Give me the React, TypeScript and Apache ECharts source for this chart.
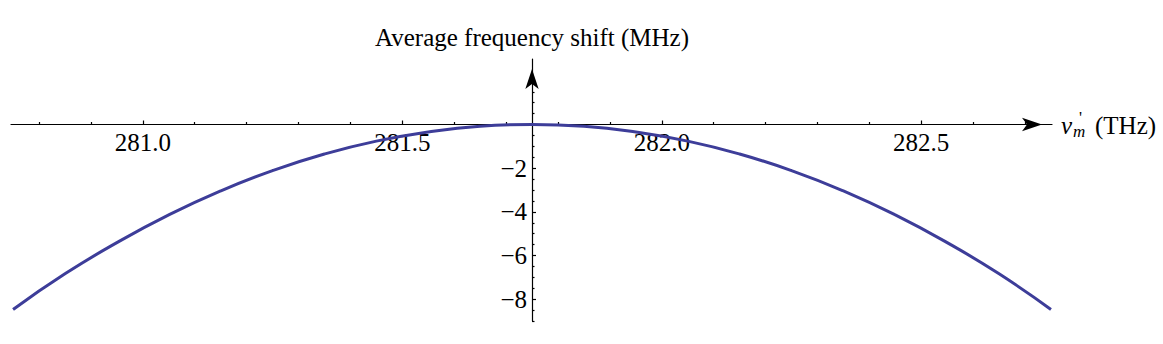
import React, { useEffect, useRef } from "react";
import * as echarts from "echarts";

// Frequency ν'_m (THz)
const freqTHz = [
  280.75, 280.85, 280.95, 281.05, 281.15, 281.25, 281.35, 281.45, 281.55, 281.65,
  281.75, 281.85, 281.95, 282.05, 282.15, 282.25, 282.35, 282.45, 282.55, 282.65, 282.75,
];
// Average frequency shift (MHz)
const shiftMHz = [
  -8.47, -6.84, -5.41, -4.14, -3.04, -2.11, -1.35, -0.76, -0.34, -0.08,
  0.0, -0.08, -0.34, -0.76, -1.35, -2.11, -3.04, -4.14, -5.41, -6.84, -8.47,
];

const xMajorTicks = [281.0, 281.5, 282.0, 282.5];
const xMinorTicks = [
  280.8, 280.9, 281.1, 281.2, 281.3, 281.4, 281.6, 281.7, 281.8, 281.9,
  282.1, 282.2, 282.3, 282.4, 282.6, 282.7,
];
const yMajorTicks = [-8, -6, -4, -2, 2];
const yLabelValues = [-8, -6, -4, -2];
const yMinorTicks = [
  -9, -8.5, -7.5, -7, -6.5, -5.5, -5, -4.5, -3.5, -3, -2.5, -1.5, -1, -0.5, 0.5, 1, 1.5,
];

const X_MIN = 280.746;
const X_MAX = 282.752;
const Y_MIN = -9;
const Y_MAX = 3;

const SERIF = "'Liberation Serif', 'Times New Roman', serif";
const AXIS_COLOR = "#000";
const CURVE_COLOR = "#3d3d99";

export default function App() {
  const ref = useRef<HTMLDivElement>(null);

  useEffect(() => {
    if (!ref.current) return;
    const chart = echarts.init(ref.current, undefined, { renderer: "svg" });
    const lineStyle = { color: AXIS_COLOR, width: 1.2 };
    const TOP = 59;
    const H = 262;
    const zeroFromTop = (H * Y_MAX) / (Y_MAX - Y_MIN); // pixel distance from top to y = 0
    const base = { outerBoundsMode: "none", containLabel: false };
    // 0: plot area, 1: horizontal axis strip (bottom edge at y = 0), 2: same strip for minor ticks
    // 3: vertical axis strip, 4: same strip for minor ticks
    const plotGrid = { ...base, left: 11, right: 111, top: TOP, height: H };
    const hGrid = { ...base, left: 11, right: 111, top: TOP, height: zeroFromTop };
    const vGrid = { ...base, left: 532, width: 1, top: TOP, height: H };
    const arrowLine = {
      show: true,
      onZero: false,
      lineStyle,
      symbol: ["none", "arrow"],
      symbolSize: [10, 20],
      symbolOffset: [0, -10],
    };
    const hiddenY = (gridIndex: number, min: number, max: number) => ({
      gridIndex, type: "value", min, max, show: false,
    });
    const hiddenX = (gridIndex: number) => ({ gridIndex, type: "value", min: 0, max: 1, show: false });
    const option: any = {
      animation: false,
      backgroundColor: "#fff",
      grid: [plotGrid, hGrid, { ...hGrid }, vGrid, { ...vGrid }],
      xAxis: [
        { gridIndex: 0, type: "value", min: X_MIN, max: X_MAX, show: false },
        {
          gridIndex: 1,
          type: "value",
          position: "bottom",
          min: X_MIN,
          max: X_MAX,
          axisLine: arrowLine,
          axisTick: { show: true, inside: true, length: 4, customValues: xMajorTicks, lineStyle },
          axisLabel: {
            customValues: xMajorTicks,
            formatter: (v: number) => v.toFixed(1),
            fontFamily: SERIF,
            fontSize: 25,
            color: "#000",
            margin: 5,
          },
          splitLine: { show: false },
        },
        {
          gridIndex: 2,
          type: "value",
          position: "bottom",
          min: X_MIN,
          max: X_MAX,
          axisLine: { show: false, onZero: false },
          axisTick: { show: true, inside: true, length: 2.5, customValues: xMinorTicks, lineStyle },
          axisLabel: { show: false },
          splitLine: { show: false },
        },
        hiddenX(3),
        hiddenX(4),
      ],
      yAxis: [
        hiddenY(0, Y_MIN, Y_MAX),
        hiddenY(1, 0, Y_MAX),
        hiddenY(2, 0, Y_MAX),
        {
          gridIndex: 3,
          type: "value",
          position: "left",
          min: Y_MIN,
          max: Y_MAX,
          axisLine: arrowLine,
          axisTick: { show: true, inside: true, length: 4, customValues: yMajorTicks, lineStyle },
          axisLabel: {
            customValues: yLabelValues,
            formatter: (v: number) => String(v).replace("-", "\u2212"),
            fontFamily: SERIF,
            fontSize: 25,
            color: "#000",
            margin: 5,
          },
          splitLine: { show: false },
          name: "Average frequency shift (MHz)",
          nameLocation: "end",
          nameGap: 9,
          nameTextStyle: { fontFamily: SERIF, fontSize: 25, color: "#000" },
        },
        {
          gridIndex: 4,
          type: "value",
          position: "left",
          min: Y_MIN,
          max: Y_MAX,
          axisLine: { show: false, onZero: false },
          axisTick: { show: true, inside: true, length: 2.5, customValues: yMinorTicks, lineStyle },
          axisLabel: { show: false },
          splitLine: { show: false },
        },
      ],
      series: [
        {
          type: "line",
          xAxisIndex: 0,
          yAxisIndex: 0,
          data: freqTHz.map((x, i) => [x, shiftMHz[i]]),
          showSymbol: false,
          smooth: true,
          lineStyle: { color: CURVE_COLOR, width: 3 },
          itemStyle: { color: CURVE_COLOR },
        },
      ],
      graphic: [
        {
          type: "text",
          x: 1061,
          y: 125,
          style: { text: "ν", font: `italic 25px ${SERIF}`, fill: "#000", verticalAlign: "middle", lineHeight: 14 },
        },
        {
          type: "text",
          x: 1073,
          y: 131,
          style: { text: "m", font: `italic 17px ${SERIF}`, fill: "#000", verticalAlign: "middle", lineHeight: 9 },
        },
        {
          type: "text",
          x: 1079,
          y: 117,
          style: { text: "'", font: `17px ${SERIF}`, fill: "#000", verticalAlign: "middle", lineHeight: 8 },
        },
        {
          type: "text",
          x: 1095,
          y: 125,
          style: { text: "(THz)", font: `25px ${SERIF}`, fill: "#000", verticalAlign: "middle" },
        },
      ],
    };
    chart.setOption(option);
    return () => chart.dispose();
  }, []);

  return (
    <div
      ref={ref}
      style={{ position: "fixed", left: 0, top: 0, width: 1163, height: 344, background: "#fff" }}
    />
  );
}
